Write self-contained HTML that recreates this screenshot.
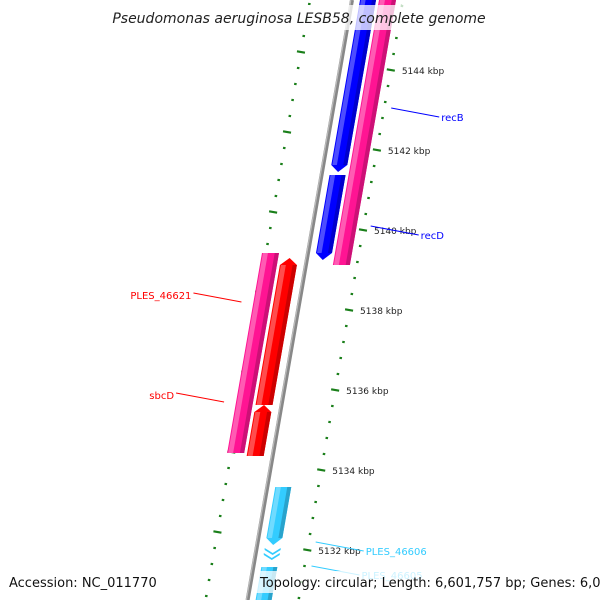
<!DOCTYPE html>
<html><head><meta charset="utf-8"><style>
html,body{margin:0;padding:0;background:#fff;}
svg{display:block;font-family:"DejaVu Sans","Liberation Sans",sans-serif;}
</style></head><body>
<svg id="c" width="600" height="600" viewBox="0 0 600 600">
<g id="ticks"></g>
<line x1="352" y1="0" x2="247.6" y2="600" stroke="#888" stroke-width="4"/>
<line x1="350.8" y1="0" x2="246.4" y2="600" stroke="#bbb" stroke-width="1.2"/>
<g id="genes"></g>
<g id="labels"></g>
<rect x="112" y="5" width="372" height="25" fill="#fff" fill-opacity="0.75"/>
<text x="299" y="23" text-anchor="middle" font-style="italic" font-size="14" fill="#222">Pseudomonas aeruginosa LESB58, complete genome</text>
<rect x="255" y="571" width="340" height="22" fill="#fff" fill-opacity="0.75"/>
<text x="9" y="587" font-size="13" fill="#111">Accession: NC_011770</text>
<text x="260" y="587" font-size="13" fill="#111">Topology: circular; Length: 6,601,757 bp; Genes: 6,026</text>
</svg>
<script>
const majorTicks = [5144, 5142, 5140, 5138, 5136, 5134, 5132];
const geneNames = ["recB","recD","PLES_46623","PLES_46621","sbcD","PLES_46621b","PLES_46606","PLES_46605"];
const geneStart = [5146.3, 5141.375, 5146.3, 5139.425, 5139.3, 5135.625, 5133.575, 5131.575];
const geneEnd   = [5141.45, 5139.25, 5139.125, 5134.425, 5135.625, 5134.35, 5132.125, 5130.2];
const geneStrand = [-1, -1, 0, 0, 1, 1, -1, -1];
const geneLane = [1, 1, 2, -2, -1, -1, 1, 1];
const geneColor = ["#0000ff","#0000ff","#ff1493","#ff1493","#ff0000","#ff0000","#33ccff","#33ccff"];
const labelText = ["recB","recD","PLES_46621","sbcD","PLES_46606","PLES_46605"];
const labelKbp = [5143.05, 5140.1, 5138.2, 5135.7, 5132.2, 5131.6];
const labelColor = ["#0000ff","#0000ff","#ff0000","#ff0000","#33ccff","#33ccff"];
const labelSide = [1, 1, -1, -1, 1, 1];

const NS="http://www.w3.org/2000/svg";
function yOf(p){return 150+(5142-p)*40;}
function bx(y){return 352-0.174*y;}
function el(t,a,parent){const e=document.createElementNS(NS,t);for(const k in a)e.setAttribute(k,a[k]);parent.appendChild(e);return e;}
const tg=document.getElementById('ticks');
// right ring ticks
for(let i=0;i<=60;i++){
  const p=5146.8-i*0.4;
  const y=yOf(p); if(y<-10||y>610)continue;
  const major=Math.abs((p/2)-Math.round(p/2))<0.01;
  const x=bx(y)+51, L=major?8:2.5;
  const t=el('line',{x1:x-L/2,y1:y-L*0.087,x2:x+L/2,y2:y+L*0.087,stroke:'#1a7f1a','stroke-width':2.2},tg);
  
  
}
majorTicks.forEach(p=>{
  const y=yOf(p);
  const t=el('text',{x:bx(y)+51+11,y:y+4,'font-size':9,fill:'#222'},tg);
  t.textContent=p+' kbp';
  
  
});
// left ring ticks
for(let i=0;i<=60;i++){
  const p=5146.8-i*0.4+0.45;
  const y=yOf(p); if(y<-10||y>610)continue;
  const major=Math.abs(((p-0.45)/2)-Math.round((p-0.45)/2))<0.01;
  const x=bx(y)-42, L=major?8:2.5;
  const t=el('line',{x1:x-L/2,y1:y-L*0.087,x2:x+L/2,y2:y+L*0.087,stroke:'#1a7f1a','stroke-width':2.2},tg);
  
  
}
// genes
const gg=document.getElementById('genes');
const lanes={1:[8,24],2:[27,44],'-1':[-26,-9],'-2':[-46,-29]};
function shade(c,f){const n=parseInt(c.slice(1),16);let r=n>>16,g=(n>>8)&255,b=n&255;
  const m=v=>Math.max(0,Math.min(255,Math.round(f>0?v+(255-v)*f:v*(1+f))));return `rgb(${m(r)},${m(g)},${m(b)})`;}
geneNames.forEach((nm,i)=>{
  const [o1,o2]=lanes[geneLane[i]];
  const y1=yOf(geneStart[i]), y2=yOf(geneEnd[i]);
  const om=(o1+o2)/2, a=7;
  let pts;
  const P=(y,o)=>[bx(y)+o,y];
  if(geneStrand[i]===-1){ // arrow pointing down
    pts=[P(y1,o1),P(y1,o2),P(y2-a,o2),P(y2,om),P(y2-a,o1)];
  }else if(geneStrand[i]===1){
    pts=[P(y1+a,o1),P(y1,om),P(y1+a,o2),P(y2,o2),P(y2,o1)];
  }else pts=[P(y1,o1),P(y1,o2),P(y2,o2),P(y2,o1)];
  const g=el('g',{},gg);
  
  
  el('polygon',{points:pts.map(p=>p.join(',')).join(' '),fill:geneColor[i]},g);
  const w=o2-o1;
  const q=(y,o)=>[bx(y)+o,y];
  const s1=[q(y1+(geneStrand[i]===1?a:0),o1+1),q(y1+(geneStrand[i]===1?a:0),o1+w*0.35),q(y2-(geneStrand[i]===-1?a:0),o1+w*0.35),q(y2-(geneStrand[i]===-1?a:0),o1+1)];
  el('polygon',{points:s1.map(p=>p.join(',')).join(' '),fill:shade(geneColor[i],0.3)},g);
  const s2=[q(y1+(geneStrand[i]===1?a:0),o2-w*0.25),q(y1+(geneStrand[i]===1?a:0),o2),q(y2-(geneStrand[i]===-1?a:0),o2),q(y2-(geneStrand[i]===-1?a:0),o2-w*0.25)];
  el('polygon',{points:s2.map(p=>p.join(',')).join(' '),fill:shade(geneColor[i],-0.2)},g);
});
// small chevrons between cyan genes
[548,553].forEach(y=>{
  const p=[[bx(y)+8,y],[bx(y)+16,y+5],[bx(y)+24,y],[bx(y)+24,y+2],[bx(y)+16,y+7],[bx(y)+8,y+2]];
  const c=el('polygon',{points:p.map(v=>v.join(',')).join(' '),fill:'#33ccff'},gg);
  
  
});
// labels
const lg=document.getElementById('labels');
labelText.forEach((t,i)=>{
  const y=yOf(labelKbp[i]);
  let x1,x2,tx,anchor;
  if(labelSide[i]>0){x1=bx(y)+58;x2=x1+48;tx=x2+2;anchor='start';}
  else{x1=bx(y)-58;x2=x1-48;tx=x2-2;anchor='end';}
  const l=el('line',{x1:x1,y1:y,x2:x2,y2:y+9*labelSide[i]*labelSide[i]*(labelSide[i]>0?1:-1)*(-1)*-1,stroke:labelColor[i],'stroke-width':1},lg);
  
  
  const ty=labelSide[i]>0?y+13:y-3;
  const tx2=el('text',{x:tx,y:ty,'font-size':10,fill:labelColor[i],'text-anchor':anchor},lg);
  tx2.textContent=t;
  
  
});
</script>
</body></html>
